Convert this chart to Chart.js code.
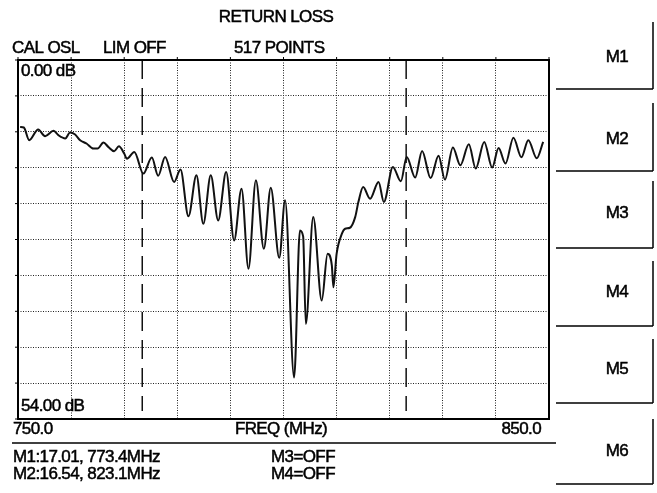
<!DOCTYPE html>
<html>
<head>
<meta charset="utf-8">
<script src="https://cdn.jsdelivr.net/npm/chart.js@4.4.1/dist/chart.umd.min.js"></script>
<style>
  html, body { margin: 0; padding: 0; background: #fff; }
  canvas { display: block; }
</style>
</head>
<body>
<canvas id="chart" width="657" height="493"></canvas>
<script>
// trace (MHz / dB)
const freqMHz = [
  750.4, 751.1, 752.1, 753.8, 755.1, 756.7, 757.6, 758.9, 759.8, 760.7,
  761.7, 762.9, 764.2, 765.0, 766.1, 767.0, 768.1, 769.0, 770.0, 770.5,
  771.9, 773.6, 775.2, 776.4, 777.7, 779.4, 780.6, 782.1, 783.6, 784.9,
  786.3, 787.7, 789.2, 790.7, 792.1, 793.4, 794.8, 796.3, 797.6, 799.2,
  800.3, 802.0, 803.1, 803.7, 804.2, 805.6, 807.2, 808.3, 809.1, 809.4,
  810.0, 811.0, 811.6, 812.5, 813.5, 814.1, 815.0, 816.3, 817.9, 818.9,
  820.6, 822.1, 823.2, 824.8, 826.1, 827.7, 829.2, 830.4, 831.9, 833.3,
  834.9, 836.2, 837.8, 839.3, 840.5, 841.8, 843.3, 844.8, 846.1, 847.7,
  848.9
];
const returnLossDb = [
  10.06, 10.15, 12.06, 10.45, 11.46, 10.66, 11.31, 11.81, 10.90, 11.16,
  12.06, 12.56, 13.32, 13.32, 12.41, 13.07, 13.72, 12.97, 14.07, 14.85,
  13.83, 17.09, 14.67, 17.42, 14.58, 18.35, 16.48, 23.52, 17.34, 24.63,
  17.34, 24.13, 16.84, 27.14, 19.35, 31.41, 18.10, 28.40, 19.20, 29.75,
  21.11, 47.76, 25.64, 26.54, 39.71, 23.63, 36.19, 29.15, 30.91, 34.19,
  29.15, 26.13, 25.38, 25.23, 23.63, 21.37, 19.11, 20.86, 18.35, 21.37,
  16.09, 18.25, 14.58, 17.69, 13.68, 17.76, 14.40, 17.99, 13.16, 15.83,
  12.67, 16.33, 12.32, 16.18, 13.24, 15.58, 11.69, 14.63, 12.06, 14.78,
  12.32
];

const markerNames = ['M1', 'M2'];
const markerFreq = [773.4, 823.1];
const markerDb = [17.01, 16.54];
const softKeys = ['M1', 'M2', 'M3', 'M4', 'M5', 'M6'];

const freqMin = 750, freqMax = 850;
const dbMin = 0, dbMax = 54;

const traceData = freqMHz.map((f, i) => ({ x: f, y: returnLossDb[i] }));

const markerSets = markerFreq.map(f => ({
    data: [{ x: f, y: dbMin }, { x: f, y: 52.8 }],
    borderColor: '#111',
    borderWidth: 1.5,
    borderDash: [19, 9],
    pointRadius: 0,
    tension: 0
}));

const FONT = '17px "Liberation Sans", Arial, sans-serif';

function txt(c, s, x, y) {
    c.strokeText(s, x, y);
    c.fillText(s, x, y);
}

const overlay = {
    id: 'overlay',
    afterDraw(chart) {
        const c = chart.ctx;
        const a = chart.chartArea;
        const xs = chart.scales.x, ys = chart.scales.y;
        c.save();
        c.strokeStyle = '#000';
        c.lineWidth = 2;
        c.strokeRect(a.left, a.top, a.right - a.left, a.bottom - a.top);

        // little ticks outside the frame
        c.lineWidth = 1;
        c.beginPath();
        xs.ticks.forEach(t => {
            const px = xs.getPixelForValue(t.value);
            c.moveTo(px, a.top - 3); c.lineTo(px, a.top);
        });
        ys.ticks.forEach(t => {
            const py = ys.getPixelForValue(t.value);
            c.moveTo(a.left - 3, py); c.lineTo(a.left, py);
        });
        c.stroke();

        c.fillStyle = '#000';
        c.strokeStyle = '#000';
        c.lineWidth = 0.5;
        c.font = FONT;
        c.letterSpacing = '-0.6px';
        c.textBaseline = 'middle';

        // header
        c.textAlign = 'center';
        txt(c, 'RETURN LOSS', 276, 17);
        c.textAlign = 'left';
        txt(c, 'CAL OSL', 12, 48);
        txt(c, 'LIM OFF', 103, 48);
        txt(c, '517 POINTS', 234, 48);

        // scale ends
        txt(c, dbMin.toFixed(2) + ' dB', a.left + 3, a.top + 11);
        txt(c, dbMax.toFixed(2) + ' dB', a.left + 3, a.bottom - 13);
        txt(c, freqMin.toFixed(1), 13, 429);
        c.textAlign = 'right';
        txt(c, freqMax.toFixed(1), 541, 429);
        c.textAlign = 'center';
        txt(c, 'FREQ (MHz)', 281, 429);

        c.lineWidth = 1.5;
        c.beginPath();
        c.moveTo(12, 443);
        c.lineTo(556, 443);
        c.stroke();
        c.lineWidth = 0.5;

        // marker readouts
        c.textAlign = 'left';
        markerNames.forEach((m, i) => {
            txt(c, m + ':' + markerDb[i].toFixed(2) + ', ' + markerFreq[i].toFixed(1) + 'MHz', 13, 457 + i * 17);
        });
        txt(c, 'M3=OFF', 271, 457);
        txt(c, 'M4=OFF', 271, 474);

        // soft keys
        const tops = [22, 103, 181, 261, 339, 419];
        const bots = [89, 171, 248, 326, 403, 484];
        const mids = [57, 139, 213, 292, 369, 451];
        c.textAlign = 'center';
        softKeys.forEach((k, i) => {
            c.lineWidth = 1.5;
            c.beginPath();
            c.moveTo(653, tops[i]);
            c.lineTo(653, bots[i]);
            c.moveTo(556, bots[i]);
            c.lineTo(653, bots[i]);
            c.stroke();
            c.lineWidth = 0.5;
            txt(c, k, 617, mids[i]);
        });
        c.restore();
    }
};

new Chart(document.getElementById('chart').getContext('2d'), {
    type: 'line',
    data: {
        datasets: [
            {
                data: traceData,
                borderColor: '#111',
                borderWidth: 2,
                pointRadius: 0,
                cubicInterpolationMode: 'monotone'
            },
            ...markerSets
        ]
    },
    options: {
        responsive: false,
        animation: false,
        devicePixelRatio: 1,
        layout: { padding: { left: 18, top: 60, right: 108, bottom: 74 } },
        scales: {
            x: {
                type: 'linear',
                min: freqMin,
                max: freqMax,
                ticks: { display: false, stepSize: 10 },
                grid: { color: '#222', lineWidth: 1, drawTicks: false },
                border: { display: false, dash: [1, 1.5] }
            },
            y: {
                min: dbMin,
                max: dbMax,
                reverse: true,
                ticks: { display: false, stepSize: 5.4 },
                grid: { color: '#222', lineWidth: 1, drawTicks: false },
                border: { display: false, dash: [1, 1.5] }
            }
        },
        plugins: {
            legend: { display: false },
            tooltip: { enabled: false }
        }
    },
    plugins: [overlay]
});
</script>
</body>
</html>
